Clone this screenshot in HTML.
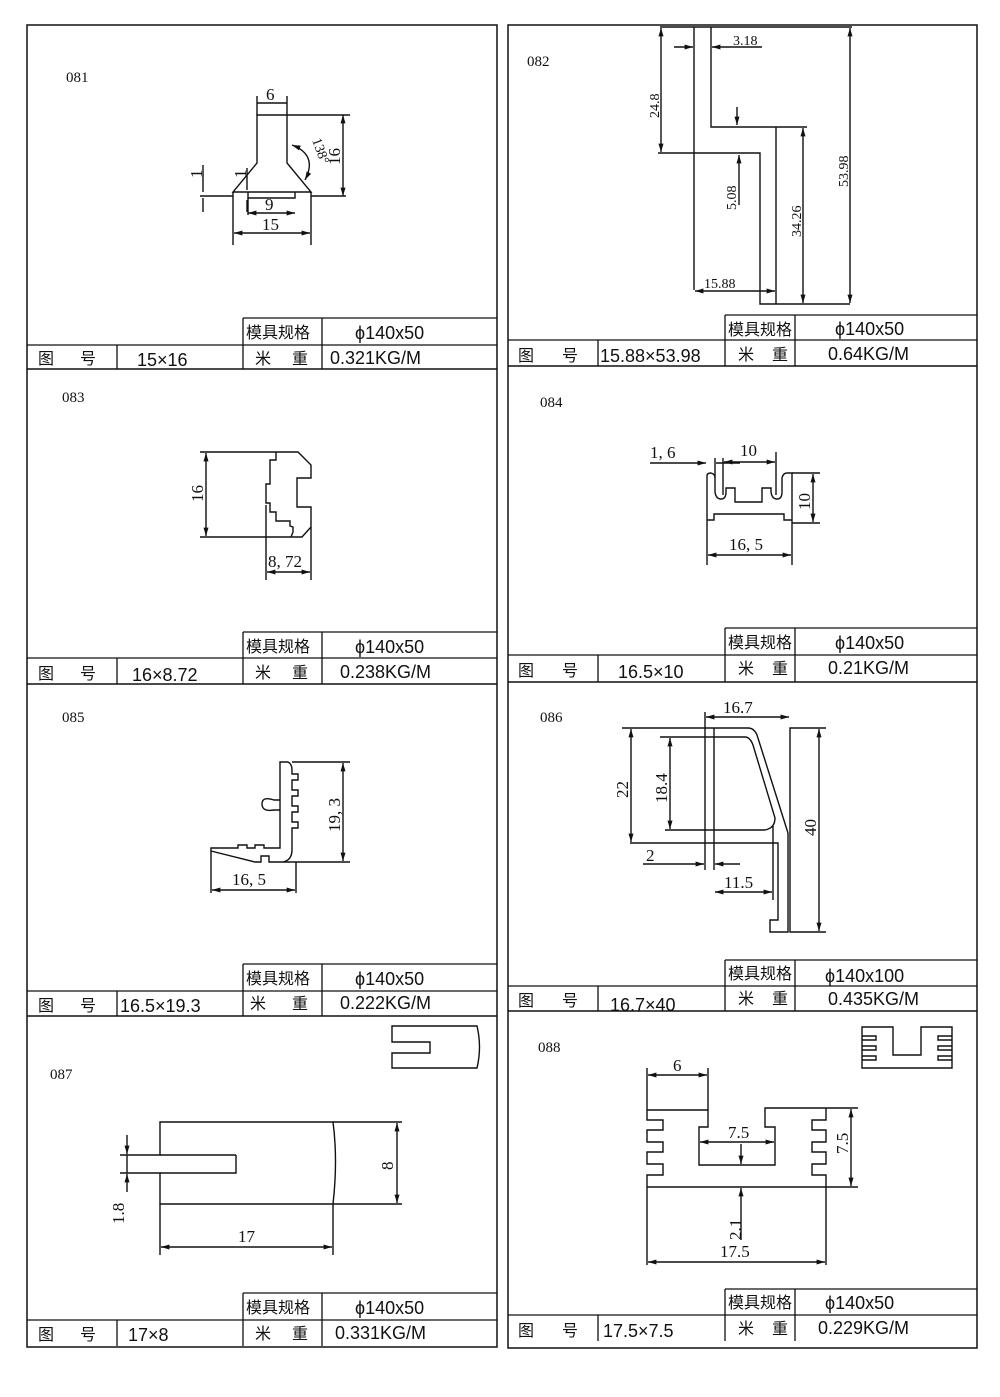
<!DOCTYPE html>
<html><head><meta charset="utf-8"><style>
html,body{margin:0;padding:0;background:#fff;}
svg{display:block;}
text{font-family:"Liberation Serif","Noto Serif CJK SC",serif;fill:#111;}
.t text{font-family:"Liberation Sans","Noto Sans CJK SC",sans-serif;font-size:18px;}
.t text.c{font-size:16px;}
.d text{font-size:17px;}
.d text.s{font-size:14px;}
</style></head><body>
<svg width="1000" height="1397" viewBox="0 0 1000 1397" xmlns="http://www.w3.org/2000/svg">
<defs>
<marker id="a" viewBox="0 0 10 10" refX="10" refY="5" markerWidth="8" markerHeight="6" orient="auto-start-reverse"><path d="M0,2 L10,5 L0,8 z" fill="#111"/></marker>
</defs>
<g stroke="#111" stroke-width="1.5" fill="none">
<rect x="27" y="25" width="470" height="1322"/>
<rect x="508" y="25" width="469" height="1323"/>
<line x1="27" y1="369" x2="497" y2="369"/>
<line x1="27" y1="684" x2="497" y2="684"/>
<line x1="27" y1="1016" x2="497" y2="1016"/>
<line x1="508" y1="366" x2="977" y2="366"/>
<line x1="508" y1="682" x2="977" y2="682"/>
<line x1="508" y1="1011" x2="977" y2="1011"/>
</g>
<g stroke="#111" stroke-width="1.3" fill="none">
<path d="M243,318H497M27,345H497M243,318V369M322,318V369M117,345V369"/>
<path d="M243,632H497M27,658H497M243,632V684M322,632V684M117,658V684"/>
<path d="M243,964H497M27,991H497M243,964V1016M322,964V1016M117,991V1016"/>
<path d="M243,1293H497M27,1320H497M243,1293V1346M322,1293V1346M117,1320V1346"/>
<path d="M725,315H977M508,340H977M725,315V366M795,315V366M598,340V366"/>
<path d="M725,628H977M508,655H977M725,628V682M795,628V682M598,655V682"/>
<path d="M725,960H977M508,986H977M725,960V1011M795,960V1011M598,986V1011"/>
<path d="M725,1289H977M508,1315H977M725,1289V1341M795,1289V1341M598,1315V1341"/>
</g>
<g class="t">
<text x="246" y="338" class="c">模具规格</text><text x="355" y="339">ϕ140x50</text>
<text x="38" y="364" class="c">图</text><text x="80" y="364" class="c">号</text><text x="137" y="366">15×16</text>
<text x="255" y="364" class="c">米</text><text x="292" y="364" class="c">重</text><text x="330" y="364">0.321KG/M</text>

<text x="728" y="335" class="c">模具规格</text><text x="835" y="335">ϕ140x50</text>
<text x="518" y="361" class="c">图</text><text x="562" y="361" class="c">号</text><text x="600" y="362">15.88×53.98</text>
<text x="738" y="360" class="c">米</text><text x="772" y="360" class="c">重</text><text x="828" y="360">0.64KG/M</text>

<text x="246" y="652" class="c">模具规格</text><text x="355" y="653">ϕ140x50</text>
<text x="38" y="679" class="c">图</text><text x="80" y="679" class="c">号</text><text x="132" y="681">16×8.72</text>
<text x="255" y="678" class="c">米</text><text x="292" y="678" class="c">重</text><text x="340" y="678">0.238KG/M</text>

<text x="728" y="648" class="c">模具规格</text><text x="835" y="649">ϕ140x50</text>
<text x="518" y="676" class="c">图</text><text x="562" y="676" class="c">号</text><text x="618" y="678">16.5×10</text>
<text x="738" y="674" class="c">米</text><text x="772" y="674" class="c">重</text><text x="828" y="674">0.21KG/M</text>

<text x="246" y="984" class="c">模具规格</text><text x="355" y="985">ϕ140x50</text>
<text x="38" y="1011" class="c">图</text><text x="80" y="1011" class="c">号</text><text x="120" y="1012">16.5×19.3</text>
<text x="250" y="1009" class="c">米</text><text x="292" y="1009" class="c">重</text><text x="340" y="1009">0.222KG/M</text>

<text x="728" y="979" class="c">模具规格</text><text x="825" y="982">ϕ140x100</text>
<text x="518" y="1006" class="c">图</text><text x="562" y="1006" class="c">号</text><text x="610" y="1011">16.7×40</text>
<text x="738" y="1004" class="c">米</text><text x="772" y="1004" class="c">重</text><text x="828" y="1005">0.435KG/M</text>

<text x="246" y="1313" class="c">模具规格</text><text x="355" y="1314">ϕ140x50</text>
<text x="38" y="1340" class="c">图</text><text x="80" y="1340" class="c">号</text><text x="128" y="1341">17×8</text>
<text x="255" y="1339" class="c">米</text><text x="292" y="1339" class="c">重</text><text x="335" y="1339">0.331KG/M</text>

<text x="728" y="1308" class="c">模具规格</text><text x="825" y="1309">ϕ140x50</text>
<text x="518" y="1336" class="c">图</text><text x="562" y="1336" class="c">号</text><text x="603" y="1337">17.5×7.5</text>
<text x="738" y="1334" class="c">米</text><text x="772" y="1334" class="c">重</text><text x="818" y="1334">0.229KG/M</text>
</g>
<g style="font-size:15px">
<text x="66" y="82">081</text><text x="527" y="66">082</text>
<text x="62" y="402">083</text><text x="540" y="407">084</text>
<text x="62" y="722">085</text><text x="540" y="722">086</text>
<text x="50" y="1079">087</text><text x="538" y="1052">088</text>
</g>

<g stroke="#111" stroke-width="1.4" fill="none">
<!-- 081 -->
<path d="M257,115 V163 L233,192 H311 L287,163 V115 Z"/>
<path d="M200,196 H233 M248,192 V198 H295 V192 M311,196 H346"/>
<path d="M257,103 H287 M257,96 V115 M287,96 V115" />
<line x1="343" y1="115" x2="343" y2="196" marker-start="url(#a)" marker-end="url(#a)"/>
<path d="M287,115 H350"/>
<path d="M233,192 V245 M311,192 V245"/>
<line x1="234" y1="233" x2="310" y2="233" marker-start="url(#a)" marker-end="url(#a)"/>
<line x1="248" y1="213" x2="295" y2="213" marker-start="url(#a)" marker-end="url(#a)"/>
<path d="M248,198 V215"/>
<path d="M292,145 Q318,155 305,180" marker-start="url(#a)" marker-end="url(#a)"/>
<path d="M203,165 V192 M203,198 V212 M247,168 V190 M247,200 V212"/>
<!-- 082 -->
<path d="M694,27 V290 M711,27 V127 H807 M658,153 H760 V304 H850 M776,127 V304"/>
<path d="M660,27 H852"/>
<line x1="661" y1="28" x2="661" y2="152" marker-start="url(#a)" marker-end="url(#a)"/>
<line x1="850" y1="28" x2="850" y2="303" marker-start="url(#a)" marker-end="url(#a)"/>
<line x1="803" y1="128" x2="803" y2="303" marker-start="url(#a)" marker-end="url(#a)"/>
<line x1="739" y1="155" x2="739" y2="205" marker-start="url(#a)"/>
<line x1="737" y1="107" x2="737" y2="125" marker-end="url(#a)"/>
<line x1="674" y1="47" x2="693" y2="47" marker-end="url(#a)"/>
<line x1="730" y1="47" x2="712" y2="47" marker-end="url(#a)"/><path d="M730,47 H762"/>
<line x1="695" y1="291" x2="775" y2="291" marker-start="url(#a)" marker-end="url(#a)"/>
<!-- 083 -->
<path d="M200,452 H298 L311,465 V478 H297 V507 H311 V527 L302,537 H200"/>
<path d="M276,452 V460 H270 V484 H266 V503 H270 V512 H276 V521 H290 V526 L293,527 V532 L291,537 M266,505 V580"/>
<path d="M311,527 V580"/>
<line x1="206" y1="453" x2="206" y2="536" marker-start="url(#a)" marker-end="url(#a)"/>
<line x1="267" y1="572" x2="310" y2="572" marker-start="url(#a)" marker-end="url(#a)"/>
<!-- 084 -->
<path d="M707,530 V476 Q707,473 711,473 Q715,474 715,478 V492 Q716,499 721,499 Q726,499 726,492 V488 H735 V502 H762 V488 H771 V492 Q772,499 777,499 Q782,499 782,492 V478 Q783,473 787,473 H792 V530"/>
<path d="M707,520 H714 V514 H784 V520 H792"/>
<path d="M792,473 H820 M792,523 H820 M707,530 V565 M792,530 V565 M715,458 V478 M723,458 V495 M776,452 V495"/>
<line x1="813" y1="474" x2="813" y2="522" marker-start="url(#a)" marker-end="url(#a)"/>
<line x1="708" y1="555" x2="791" y2="555" marker-start="url(#a)" marker-end="url(#a)"/>
<line x1="724" y1="462" x2="775" y2="462" marker-start="url(#a)" marker-end="url(#a)"/>
<line x1="650" y1="463" x2="706" y2="463" marker-end="url(#a)"/><path d="M716,463 H740"/>
<!-- 085 -->
<path d="M280,838 V762 H288 Q292,764 292,770 V774 H298 V780 H292 V790 H298 V796 H292 V806 H298 V812 H292 V822 H298 V828 H292 V850 Q292,860 283,862 H269 V856 H261 V862 H255 L211,851 V848 H238 V845 H247 V848 H255 V845 H264 V848 H280 Z"/>
<path d="M280,810 H274 Q262,812 262,804 Q262,796 274,800 H280"/>
<path d="M292,762 H350 M283,862 H350 M211,851 V893 M296,862 V893"/>
<line x1="343" y1="763" x2="343" y2="861" marker-start="url(#a)" marker-end="url(#a)"/>
<line x1="212" y1="890" x2="295" y2="890" marker-start="url(#a)" marker-end="url(#a)"/>
<!-- 086 -->
<path d="M622,728 H748 Q754,728 757,735 L788,833 V932 H770 V920 H778 V843 H630"/>
<path d="M660,737 H745 Q750,737 753,745 L775,818 Q775,828 765,830 H665 M773,825 V900"/>
<path d="M714,728 V870 M705,712 V870 M826,728 H790 V932 H826"/>
<line x1="706" y1="717" x2="789" y2="717" marker-start="url(#a)" marker-end="url(#a)"/>
<line x1="631" y1="729" x2="631" y2="842" marker-start="url(#a)" marker-end="url(#a)"/>
<line x1="670" y1="738" x2="670" y2="829" marker-start="url(#a)" marker-end="url(#a)"/>
<line x1="819" y1="729" x2="819" y2="931" marker-start="url(#a)" marker-end="url(#a)"/>
<line x1="715" y1="892" x2="772" y2="892" marker-start="url(#a)" marker-end="url(#a)"/>
<line x1="643" y1="864" x2="704" y2="864" marker-end="url(#a)"/>
<line x1="740" y1="864" x2="715" y2="864" marker-end="url(#a)"/>
<!-- 087 -->
<path d="M160,1122 H333 Q338,1160 333,1204 H160 V1173 H127 V1155 H160 Z"/>
<path d="M236,1155 V1173 H160 M236,1155 H160"/>
<path d="M333,1122 H402 M333,1204 H402 M160,1204 V1255 M333,1204 V1255 M120,1155 H127 M120,1173 H127"/>
<line x1="397" y1="1123" x2="397" y2="1203" marker-start="url(#a)" marker-end="url(#a)"/>
<line x1="161" y1="1247" x2="332" y2="1247" marker-start="url(#a)" marker-end="url(#a)"/>
<line x1="127" y1="1135" x2="127" y2="1154" marker-end="url(#a)"/>
<line x1="127" y1="1192" x2="127" y2="1174" marker-end="url(#a)"/>
<path d="M392,1026 H477 Q482,1047 477,1068 H392 V1053 H430 V1042 H392 Z"/>
<!-- 088 -->
<path d="M647,1068 V1120 H663 V1130 H647 V1142 H663 V1152 H647 V1164 H663 V1175 H647 V1265"/>
<path d="M647,1110 H708 V1127 H699 V1165 H775 V1127 H765 V1108 H858 M826,1108 V1120 H812 V1130 H826 V1142 H812 V1152 H826 V1164 H812 V1175 H826 V1265"/>
<path d="M647,1187 H858 M708,1068 V1110"/>
<line x1="648" y1="1075" x2="707" y2="1075" marker-start="url(#a)" marker-end="url(#a)"/>
<line x1="700" y1="1142" x2="774" y2="1142" marker-start="url(#a)" marker-end="url(#a)"/>
<line x1="851" y1="1109" x2="851" y2="1186" marker-start="url(#a)" marker-end="url(#a)"/>
<line x1="741" y1="1144" x2="741" y2="1164" marker-end="url(#a)"/>
<line x1="741" y1="1240" x2="741" y2="1188" marker-end="url(#a)"/>
<line x1="648" y1="1262" x2="825" y2="1262" marker-start="url(#a)" marker-end="url(#a)"/>
<path d="M862,1068 V1027 H893 V1055 H921 V1027 H952 V1068 Z M862,1036 H876 V1040 H862 M862,1046 H876 V1050 H862 M862,1056 H876 V1060 H862 M952,1036 H938 V1040 H952 M952,1046 H938 V1050 H952 M952,1056 H938 V1060 H952"/>
</g>
<g class="d">
<text x="266" y="100">6</text>
<text x="265" y="210">9</text>
<text x="262" y="230">15</text>
<text transform="translate(340,165) rotate(-90)">16</text>
<text transform="translate(312,140) rotate(70)" class="s">138°</text>
<text transform="translate(202,178) rotate(-90)">1</text>
<text transform="translate(246,178) rotate(-90)">1</text>
<text x="733" y="45" class="s">3.18</text>
<text transform="translate(659,118) rotate(-90)" class="s">24.8</text>
<text transform="translate(736,210) rotate(-90)" class="s">5.08</text>
<text transform="translate(801,237) rotate(-90)" class="s">34.26</text>
<text transform="translate(848,187) rotate(-90)" class="s">53.98</text>
<text x="704" y="288" class="s">15.88</text>
<text transform="translate(203,502) rotate(-90)">16</text>
<text x="268" y="567">8, 72</text>
<text x="650" y="458">1, 6</text>
<text x="740" y="456">10</text>
<text transform="translate(810,510) rotate(-90)">10</text>
<text x="729" y="550">16, 5</text>
<text transform="translate(340,832) rotate(-90)">19, 3</text>
<text x="232" y="885">16, 5</text>
<text x="723" y="713">16.7</text>
<text transform="translate(628,798) rotate(-90)">22</text>
<text transform="translate(667,803) rotate(-90)">18.4</text>
<text transform="translate(816,836) rotate(-90)">40</text>
<text x="646" y="861">2</text>
<text x="724" y="888">11.5</text>
<text transform="translate(393,1170) rotate(-90)">8</text>
<text x="238" y="1242">17</text>
<text transform="translate(124,1224) rotate(-90)">1.8</text>
<text x="673" y="1071">6</text>
<text x="728" y="1138">7.5</text>
<text transform="translate(848,1154) rotate(-90)">7.5</text>
<text transform="translate(741,1240) rotate(-90)">2.1</text>
<text x="720" y="1257">17.5</text>
</g>
</svg>
</body></html>
